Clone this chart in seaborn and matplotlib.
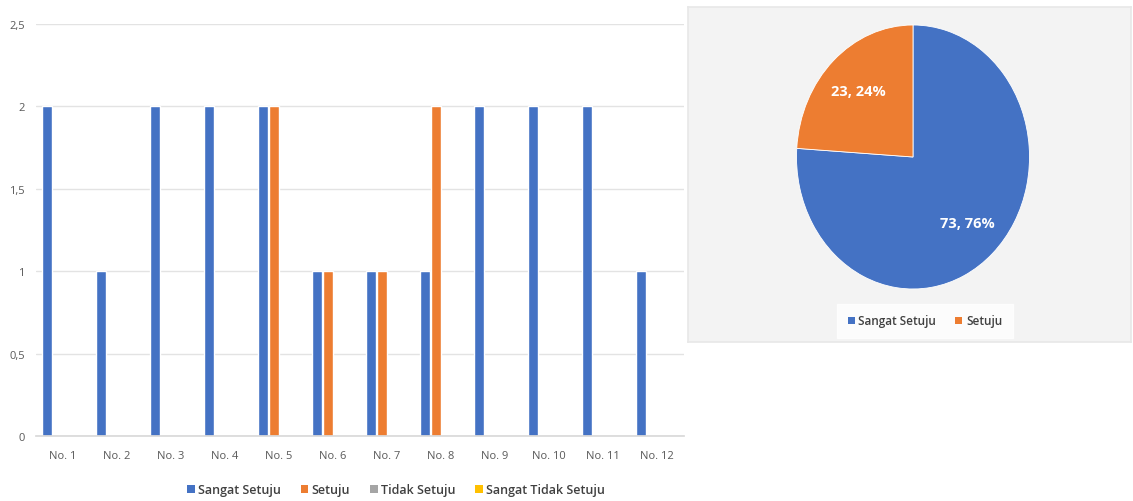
import matplotlib
matplotlib.use("Agg")
import matplotlib.pyplot as plt
import seaborn as sns
import pandas as pd
from matplotlib.patches import Patch
from matplotlib.ticker import FuncFormatter

# ---- data ----
categories = [f"No. {i}" for i in range(1, 13)]
series_names = ["Sangat Setuju", "Setuju", "Tidak Setuju", "Sangat Tidak Setuju"]
sangat_setuju = [2, 1, 2, 2, 2, 1, 1, 1, 2, 2, 2, 1]
setuju = [0, 0, 0, 0, 2, 1, 1, 2, 0, 0, 0, 0]
tidak_setuju = [0] * 12
sangat_tidak_setuju = [0] * 12

pie_labels = ["Sangat Setuju", "Setuju"]
pie_values = [73, 23]
pie_pcts = [76, 24]

colors = ["#4472C4", "#ED7D31", "#A5A5A5", "#FFC000"]

sns.set_theme(style="white")
plt.rcParams["font.family"] = ["Open Sans", "DejaVu Sans"]

rows = []
for name, vals in zip(series_names, [sangat_setuju, setuju, tidak_setuju, sangat_tidak_setuju]):
    for c, v in zip(categories, vals):
        rows.append({"cat": c, "series": name, "value": v})
df = pd.DataFrame(rows)

W, H = 1133, 502
fig = plt.figure(figsize=(W / 100, H / 100), dpi=100)
fig.patch.set_facecolor("white")

# ---- bar chart ----
ax = fig.add_axes([36 / W, 65 / H, 648 / W, 412 / H])
sns.barplot(data=df, x="cat", y="value", hue="series", order=categories,
            hue_order=series_names, palette=colors, width=0.8, gap=0.06,
            saturation=1, legend=False, ax=ax)
ax.set_ylim(0, 2.5)
ax.set_xlim(-0.5, 11.5)
ax.set_yticks([0, 0.5, 1, 1.5, 2, 2.5])
ax.yaxis.set_major_formatter(FuncFormatter(lambda v, p: (f"{v:g}").replace(".", ",")))
ax.grid(axis="y", color="#e3e3e3", linewidth=1)
ax.set_axisbelow(True)
for s in ["top", "right", "left"]:
    ax.spines[s].set_visible(False)
ax.spines["bottom"].set_color("#d9d9d9")
ax.set_xlabel("")
ax.set_ylabel("")
ax.tick_params(axis="both", length=0, labelsize=8, labelcolor="#595959")
ax.tick_params(axis="y", pad=8)
ax.tick_params(axis="x", pad=10)

handles = [Patch(facecolor=c, edgecolor="none", label=n) for c, n in zip(colors, series_names)]
fig.legend(handles=handles, loc="center", bbox_to_anchor=(396 / W, 11 / H), ncol=4,
           frameon=False, handlelength=0.6, handleheight=0.6,
           handletextpad=0.25, columnspacing=1.6, labelcolor="#404040",
           prop={"weight": "semibold", "size": 9})

# ---- pie chart box ----
box = fig.add_axes([688 / W, (H - 343) / H, 443 / W, 335 / H])
box.set_facecolor("#f3f3f3")
box.set_xticks([])
box.set_yticks([])
for s in box.spines.values():
    s.set_color("#e8e8e8")

pax = fig.add_axes([796.5 / W, (H - 290) / H, 233 / W, 264 / H])
pax.patch.set_alpha(0)
pax.pie(pie_values, colors=colors[:2], startangle=90, counterclock=False,
        labels=[f"{v}, {p}%" for v, p in zip(pie_values, pie_pcts)],
        labeldistance=0.68,
        wedgeprops={"linewidth": 0.6, "edgecolor": "white"},
        textprops={"color": "white", "fontsize": 10.5, "weight": "bold",
                   "ha": "center", "va": "center"})
pax.set_aspect("auto")
pax.set_xlim(-1, 1)
pax.set_ylim(-1, 1)
pax.axis("off")

pie_handles = [Patch(facecolor=c, edgecolor="none", label=n) for c, n in zip(colors[:2], pie_labels)]
leg = fig.legend(handles=pie_handles, loc="center", bbox_to_anchor=(925 / W, (H - 322) / H),
                 ncol=2, frameon=True, fancybox=False, handlelength=0.6, handleheight=0.6,
                 handletextpad=0.3, columnspacing=1.6, labelcolor="#404040",
                 prop={"weight": "semibold", "size": 8.5}, borderpad=0.9)
leg.get_frame().set_facecolor("white")
leg.get_frame().set_edgecolor("white")

fig.savefig("out.png", dpi=100)
